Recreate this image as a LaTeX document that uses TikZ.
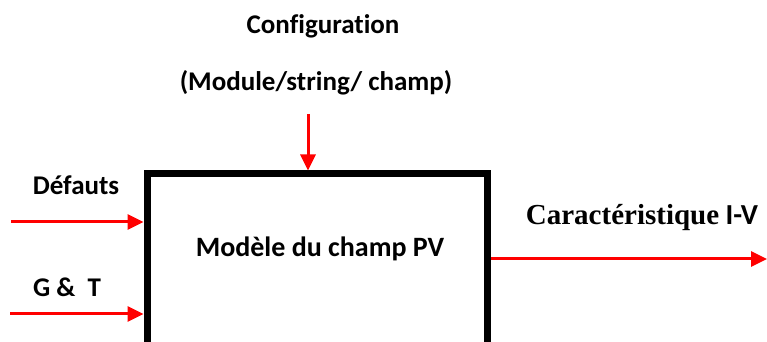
\documentclass[tikz,border=0pt]{standalone}
\usepackage{fontspec}
\setmainfont{Carlito}[Ligatures=NoCommon]
\newfontfamily\timesfont{Liberation Serif}
\usetikzlibrary{arrows.meta}
\begin{document}
\begin{tikzpicture}[x=1pt,y=1pt,
  flow/.style={red,line width=3pt,-{Triangle[length=16pt,width=15pt]}},
  lbl/.style={font=\fontsize{27}{32}\selectfont\bfseries}]
\useasboundingbox (0,0) rectangle (767,342);
\clip (0,0) rectangle (767,342);
\node[draw,line width=7pt,minimum width=340pt,minimum height=230pt,inner sep=0pt] (model) at (317,53) {};
\node[lbl,font=\fontsize{28}{32}\selectfont\bfseries] (name) at (320,93) {Modèle du champ PV};
\node[lbl] (config) at (323,316) {Configuration};
\node[lbl] (level) at (316,259) {(Module/string/ champ)};
\node[lbl] (def) at (76,157) {Défauts};
\node[lbl] (gt) at (67,55) {G \&\ \ T};
\node[lbl,font=\fontsize{29}{32}\selectfont\bfseries] (iv) at (642,124) {{\timesfont Caractéristique} I-V};
\coordinate (top) at (308,228);
\coordinate (d0) at (11,120);
\coordinate (g0) at (10,28);
\coordinate (out) at (767,83);
\draw[flow] (top) -- (top |- model.north);
\draw[flow] (d0) -- (d0 -| model.west);
\draw[flow] (g0) -- (g0 -| model.west);
\draw[flow] (out -| model.east) -- (out);
\end{tikzpicture}
\end{document}
